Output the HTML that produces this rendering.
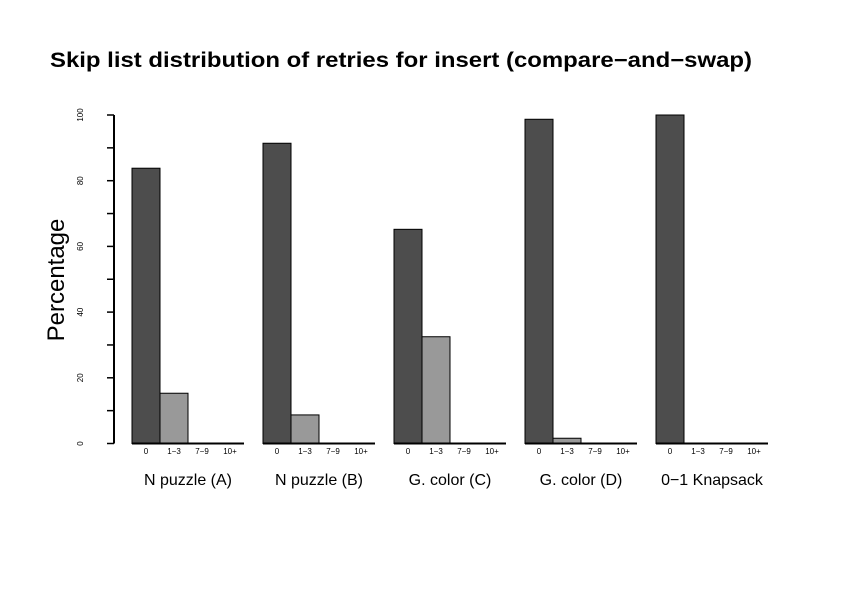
<!DOCTYPE html>
<html><head><meta charset="utf-8"><style>
body{margin:0;background:#fff}
svg{display:block;font-family:"Liberation Sans",sans-serif}
</style></head><body>
<svg id="c" width="841" height="595">
<text x="50" y="67" font-size="21" font-weight="bold" textLength="702" lengthAdjust="spacingAndGlyphs">Skip list distribution of retries for insert (compare−and−swap)</text>
<text transform="translate(64,280) rotate(-90)" text-anchor="middle" font-size="24">Percentage</text>
<g id="g"></g>
</svg>
<script>
const groups=["N puzzle (A)","N puzzle (B)","G. color (C)","G. color (D)","0−1 Knapsack"];
const buckets=["0","1−3","7−9","10+"];
const retries0=[83.8,91.4,65.2,98.7,100];
const retries13=[15.3,8.7,32.5,1.6,0];
const retries79=[0,0,0,0,0];
const retries10p=[0,0,0,0,0];
const yTicks=[0,20,40,60,80,100];
const yMinor=[10,30,50,70,90];
const series=[retries0,retries13,retries79,retries10p];
const fills=["#4d4d4d","#999999","#cccccc","#eeeeee"];
const NS="http://www.w3.org/2000/svg";
const g=document.getElementById('g');
const y0=443.5,y100=115;
const ys=v=>y0-(y0-y100)*v/100;
const gx=i=>132+i*131, bw=28;
function mk(t,a,p){const e=document.createElementNS(NS,t);for(const k in a)e.setAttribute(k,a[k]);(p||g).appendChild(e);return e;}
const ax=mk('line',{x1:114,x2:114,y1:ys(0),y2:ys(100),stroke:'#000','stroke-width':2});


yTicks.concat(yMinor).forEach(v=>{
 const t=mk('line',{x1:107,x2:114,y1:ys(v),y2:ys(v),stroke:'#000','stroke-width':1.5});
 
 
});
yTicks.forEach(v=>{
 const t=mk('text',{transform:`translate(83,${ys(v)}) rotate(-90)`,'text-anchor':'middle','font-size':8});
 t.textContent=v;
 
 
});
groups.forEach((name,i)=>{
 const x=gx(i);
 series.forEach((s,j)=>{
  const v=s[i];
  if(v>0){
   const r=mk('rect',{x:x+j*bw,y:ys(v),width:bw,height:ys(0)-ys(v),fill:fills[j],stroke:'#000','stroke-width':1});
   
   
  }
  const t=mk('text',{x:x+j*bw+bw/2,y:454,'text-anchor':'middle','font-size':8});
  t.textContent=buckets[j];
  
  
 });
 const b=mk('line',{x1:x,x2:x+4*bw,y1:ys(0),y2:ys(0),stroke:'#000','stroke-width':2});
 
 
 const l=mk('text',{x:x+2*bw,y:485,'text-anchor':'middle','font-size':16});
 l.textContent=name;
 
 
});
</script>
</body></html>
